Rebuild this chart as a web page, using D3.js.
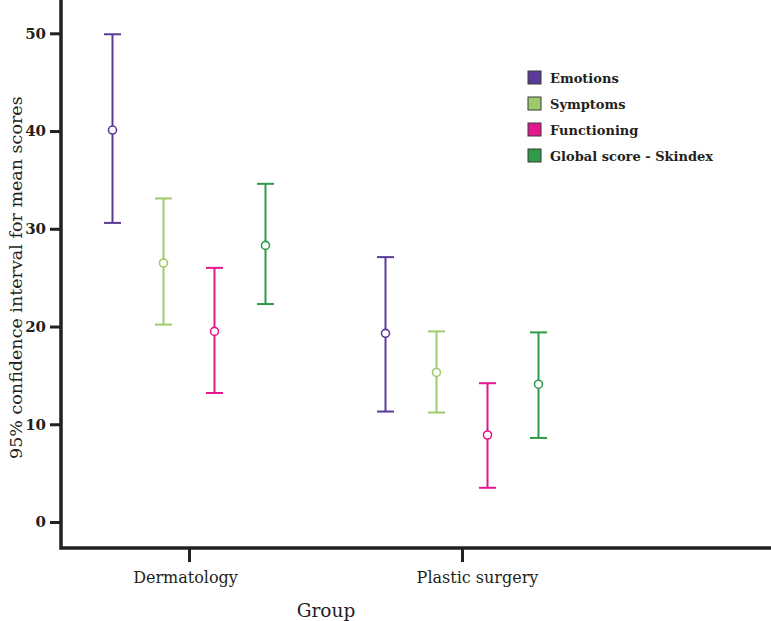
<!DOCTYPE html>
<html>
<head>
<meta charset="utf-8">
<script src="https://cdn.jsdelivr.net/npm/d3@7"></script>
<style>
  body { margin: 0; background: #fff; }
  svg { display: block; font-family: "DejaVu Serif", serif; }
</style>
</head>
<body>
<script>
// data
const groups = ["Dermatology", "Plastic surgery"];
const series = ["Emotions", "Symptoms", "Functioning", "Global score - Skindex"];
const colors = ["#5b3a98", "#9dcb6c", "#e3178e", "#2f9a48"];
const means = [[40.1, 26.5, 19.5, 28.3], [19.3, 15.3, 8.9, 14.1]];
const lowers = [[30.6, 20.2, 13.2, 22.3], [11.3, 11.2, 3.5, 8.6]];
const uppers = [[49.9, 33.1, 26.0, 34.6], [27.1, 19.5, 14.2, 19.4]];
const yTicks = [0, 10, 20, 30, 40, 50];

const width = 771;
const height = 621;
const axisLeftX = 61;
const axisBottomY = 548;

const svg = d3.select("body").append("svg")
    .attr("width", width)
    .attr("height", height);

const x = d3.scalePoint()
    .domain(groups)
    .range([189, 462]);

const xInner = d3.scaleBand()
    .domain(series)
    .range([-102, 102]);

const y = d3.scaleLinear()
    .domain([0, 50])
    .range([522, 33.3]);

const color = d3.scaleOrdinal().domain(series).range(colors);

// rows for error bars
const rows = [];
groups.forEach((g, gi) => {
  series.forEach((s, si) => {
    rows.push({group: g, series: s, mean: means[gi][si], lo: lowers[gi][si], hi: uppers[gi][si]});
  });
});
const cx = d => x(d.group) + xInner(d.series) + xInner.bandwidth() / 2;

// y axis
svg.append("g")
    .attr("transform", `translate(${axisLeftX},0)`)
    .call(d3.axisLeft(y).tickValues(yTicks).tickSize(11).tickPadding(4).tickSizeOuter(0))
    .call(g => g.select(".domain").remove())
    .call(g => g.selectAll(".tick line").attr("stroke", "#231f20").attr("stroke-width", 3))
    .call(g => g.selectAll(".tick text")
        .attr("fill", "#231f20")
        .style("font-size", "15px")
        .style("font-weight", "bold")
        .style("font-family", "DejaVu Serif"));

// x axis
svg.append("g")
    .attr("transform", `translate(0,${axisBottomY})`)
    .call(d3.axisBottom(x).tickSize(14).tickPadding(10).tickSizeOuter(0))
    .call(g => g.select(".domain").remove())
    .call(g => g.selectAll(".tick line").attr("stroke", "#231f20").attr("stroke-width", 3))
    .call(g => g.selectAll(".tick text")
        .attr("fill", "#231f20")
        .attr("dx", (d, i) => i === 1 ? 15 : -4)
        .style("font-size", "16px")
        .style("font-family", "DejaVu Serif"));

// axis lines
svg.append("path")
    .attr("d", `M${axisLeftX},0V${axisBottomY}H${width}`)
    .attr("fill", "none")
    .attr("stroke", "#231f20")
    .attr("stroke-width", 3.5);

// axis titles
svg.append("text")
    .attr("transform", `translate(22,${(y(0) + y(50)) / 2}) rotate(-90)`)
    .attr("text-anchor", "middle")
    .attr("fill", "#231f20")
    .style("font-size", "17.5px")
    .text("95% confidence interval for mean scores");

svg.append("text")
    .attr("x", 326)
    .attr("y", 617)
    .attr("text-anchor", "middle")
    .attr("fill", "#231f20")
    .style("font-size", "18.5px")
    .text("Group");

// error bars
const bars = svg.append("g").selectAll("g")
    .data(rows)
    .join("g")
    .attr("stroke", d => color(d.series))
    .attr("stroke-width", 2)
    .attr("fill", "none");

bars.append("line")
    .attr("x1", cx).attr("x2", cx)
    .attr("y1", d => y(d.hi)).attr("y2", d => y(d.lo));

bars.append("line")
    .attr("x1", d => cx(d) - 8.5).attr("x2", d => cx(d) + 8.5)
    .attr("y1", d => y(d.hi)).attr("y2", d => y(d.hi));

bars.append("line")
    .attr("x1", d => cx(d) - 8.5).attr("x2", d => cx(d) + 8.5)
    .attr("y1", d => y(d.lo)).attr("y2", d => y(d.lo));

bars.append("circle")
    .attr("cx", cx)
    .attr("cy", d => y(d.mean))
    .attr("r", 4)
    .attr("fill", "#fff")
    .attr("stroke-width", 1.6);

// legend
const legend = svg.append("g")
    .attr("transform", "translate(528,71)")
    .selectAll("g")
    .data(series)
    .join("g")
    .attr("transform", (d, i) => `translate(0,${i * 26})`);

legend.append("rect")
    .attr("width", 13)
    .attr("height", 13)
    .attr("fill", d => color(d))
    .attr("stroke", "#3a3a3a")
    .attr("stroke-width", 1);

legend.append("text")
    .attr("x", 22)
    .attr("y", 11.5)
    .attr("fill", "#231f20")
    .style("font-size", "13px")
    .style("font-weight", "bold")
    .text(d => d);
</script>
</body>
</html>
